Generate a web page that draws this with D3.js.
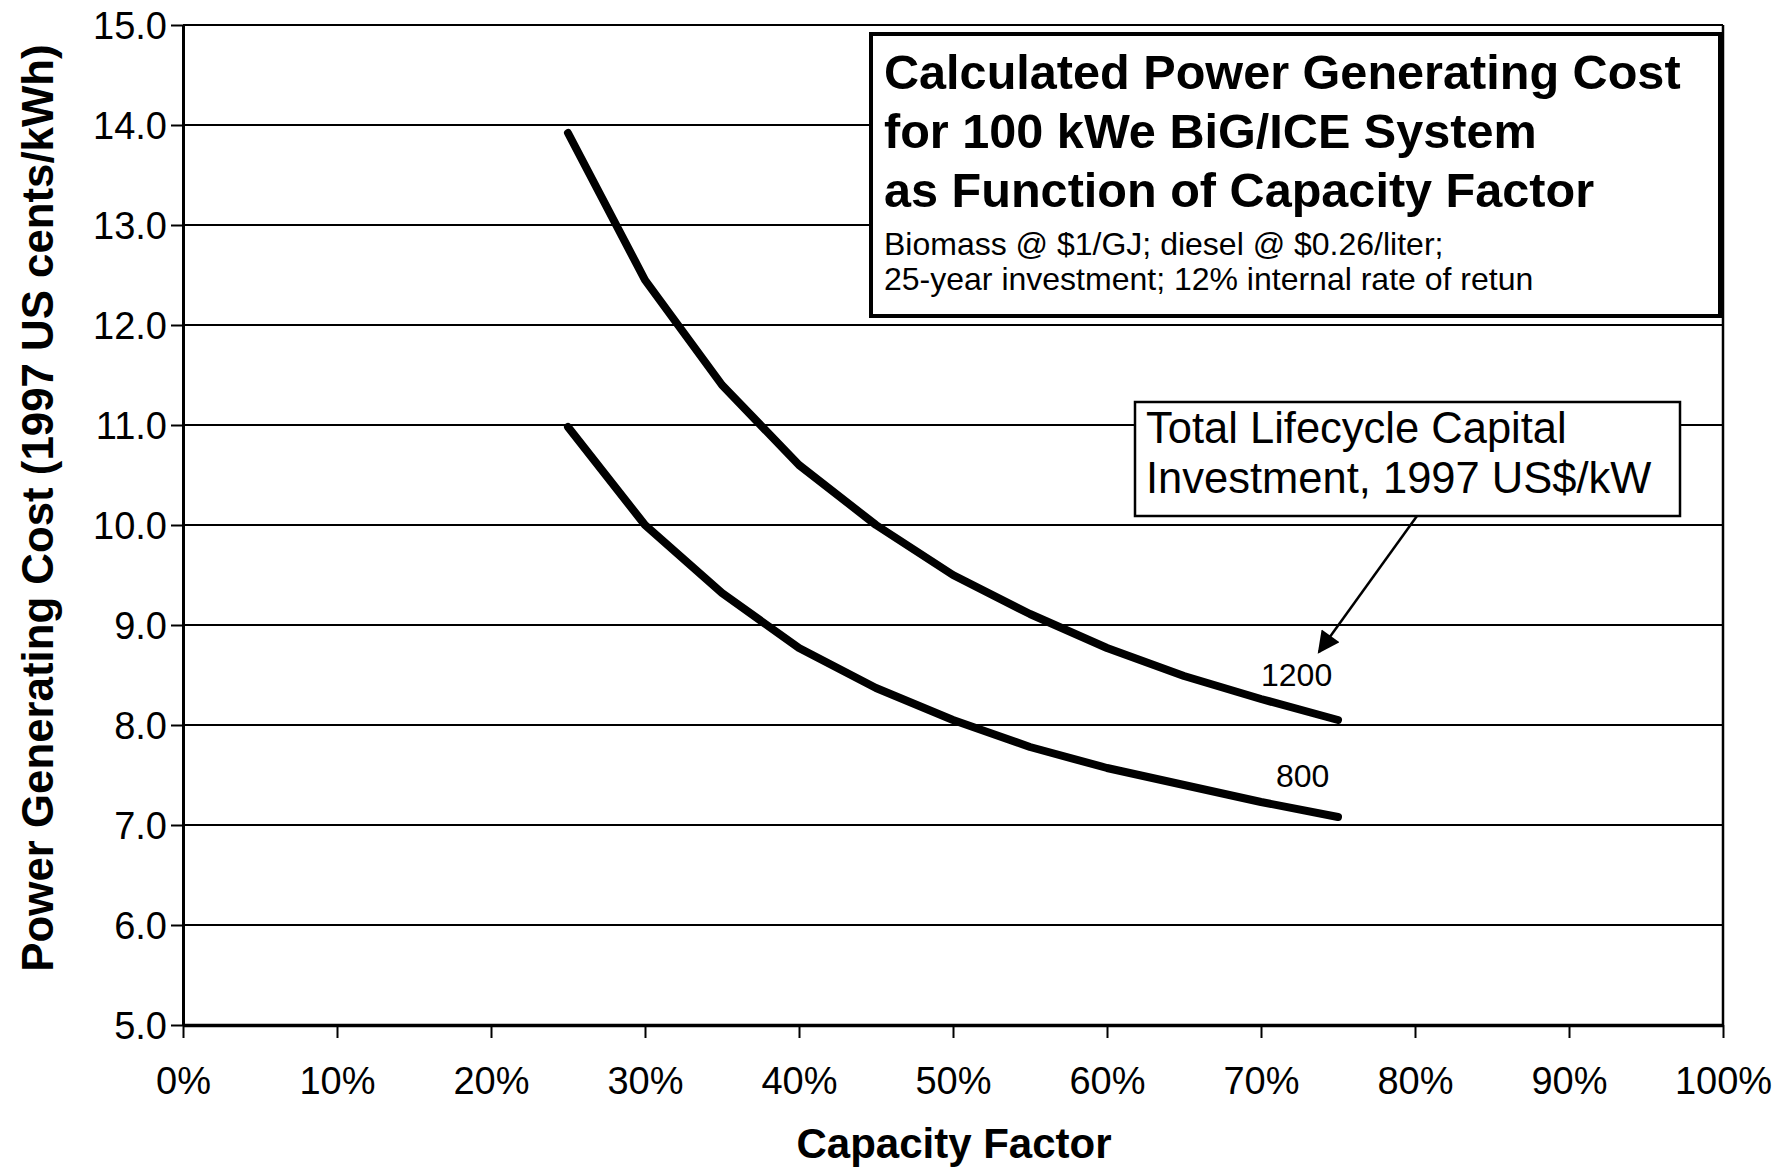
<!DOCTYPE html>
<html>
<head>
<meta charset="utf-8">
<script src="https://cdn.jsdelivr.net/npm/d3@7"></script>
<style>
  body { margin: 0; background: #fff; }
  text { font-family: "Liberation Sans", Arial, sans-serif; fill: #000; }
  .axis path, .axis line { stroke: #000; }
</style>
</head>
<body>
<div id="chart"></div>
<script>
// values
const capacity = [0.25, 0.30, 0.35, 0.40, 0.45, 0.50, 0.55, 0.60, 0.65, 0.70, 0.75];
const cost1200 = [13.92, 12.45, 11.40, 10.60, 10.00, 9.50, 9.11, 8.77, 8.49, 8.26, 8.05];
const cost800  = [10.98, 10.00, 9.32, 8.77, 8.37, 8.05, 7.78, 7.57, 7.40, 7.23, 7.08];
const seriesNames = ["1200", "800"];
const yTicks = [5, 6, 7, 8, 9, 10, 11, 12, 13, 14, 15];
const xTicks = [0, 0.1, 0.2, 0.3, 0.4, 0.5, 0.6, 0.7, 0.8, 0.9, 1.0];
const titleLines = ["Calculated Power Generating Cost", "for 100 kWe BiG/ICE System", "as Function of Capacity Factor"];
const subLines = ["Biomass @ $1/GJ; diesel @ $0.26/liter;", "25-year investment; 12% internal rate of retun"];
const noteLines = ["Total Lifecycle Capital", "Investment, 1997 US$/kW"];

let W = 1789, H = 1172;
let plotLeft = 183, plotRight = 1723, plotTop = 25, plotBottom = 1025;

let svg = d3.select("#chart").append("svg")
    .attr("width", W).attr("height", H);

let x = d3.scaleLinear().domain([0, 1]).range([plotLeft, plotRight]);
let y = d3.scaleLinear().domain([5, 15]).range([plotBottom, plotTop]);

// gridlines
svg.append("g")
  .selectAll("line")
  .data(yTicks)
  .enter().append("line")
    .attr("x1", plotLeft).attr("x2", plotRight)
    .attr("y1", d => y(d)).attr("y2", d => y(d))
    .attr("stroke", "#000").attr("stroke-width", 2);

// right border
svg.append("line")
    .attr("x1", plotRight).attr("x2", plotRight)
    .attr("y1", plotTop).attr("y2", plotBottom)
    .attr("stroke", "#000").attr("stroke-width", 2.5);

// y axis
let yAxis = d3.axisLeft(y).tickValues(yTicks).tickFormat(d3.format(".1f"))
    .tickSize(12).tickSizeOuter(0).tickPadding(4);
let gy = svg.append("g").attr("class", "axis")
    .attr("transform", `translate(${plotLeft},0)`)
    .call(yAxis);
gy.select(".domain").attr("stroke-width", 3);
gy.selectAll(".tick line").attr("stroke-width", 2);
gy.selectAll("text").attr("font-size", 38).attr("dy", "0.36em");

// x axis
let xAxis = d3.axisBottom(x).tickValues(xTicks).tickFormat(d3.format(".0%"))
    .tickSize(13).tickSizeOuter(0).tickPadding(29);
let gx = svg.append("g").attr("class", "axis")
    .attr("transform", `translate(0,${plotBottom})`)
    .call(xAxis);
gx.select(".domain").attr("stroke-width", 3.5);
gx.selectAll(".tick line").attr("stroke-width", 2);
gx.selectAll("text").attr("font-size", 38).attr("dy", "0.71em");

// axis titles
svg.append("text")
    .attr("transform", `translate(53,508)rotate(-90)`)
    .attr("text-anchor", "middle")
    .attr("font-size", 43.8).attr("font-weight", "bold")
    .text("Power Generating Cost (1997 US cents/kWh)");

svg.append("text")
    .attr("x", 954).attr("y", 1158)
    .attr("text-anchor", "middle")
    .attr("font-size", 42).attr("font-weight", "bold")
    .text("Capacity Factor");

// curves
let line = d3.line()
    .x(d => x(d[0]))
    .y(d => y(d[1]));

let series = [cost1200, cost800].map(vals => capacity.map((c, i) => [c, vals[i]]));

svg.append("g")
  .selectAll("path")
  .data(series)
  .enter().append("path")
    .attr("d", line)
    .attr("fill", "none")
    .attr("stroke", "#000")
    .attr("stroke-width", 8)
    .attr("stroke-linecap", "round")
    .attr("stroke-linejoin", "round");

// series labels
let lastIdx = capacity.length - 1;
svg.append("text")
    .attr("x", x(capacity[lastIdx]) - 77).attr("y", y(cost1200[lastIdx]) - 34)
    .attr("font-size", 32)
    .text(seriesNames[0]);
svg.append("text")
    .attr("x", x(capacity[lastIdx]) - 62).attr("y", y(cost800[lastIdx]) - 30)
    .attr("font-size", 32)
    .text(seriesNames[1]);

// title box
let tb = svg.append("g");
tb.append("rect")
    .attr("x", 871).attr("y", 34).attr("width", 849).attr("height", 282)
    .attr("fill", "#fff").attr("stroke", "#000").attr("stroke-width", 4);
tb.selectAll("text.t")
  .data(titleLines)
  .enter().append("text")
    .attr("class", "t")
    .attr("x", 884).attr("y", (d, i) => 89 + i * 59)
    .attr("font-size", 48.6).attr("font-weight", "bold")
    .text(d => d);
tb.selectAll("text.s")
  .data(subLines)
  .enter().append("text")
    .attr("class", "s")
    .attr("x", 884).attr("y", (d, i) => 255 + i * 35)
    .attr("font-size", 32)
    .text(d => d);

// annotation box with arrow
let nb = svg.append("g");
nb.append("rect")
    .attr("x", 1135).attr("y", 402).attr("width", 545).attr("height", 114)
    .attr("fill", "#fff").attr("stroke", "#000").attr("stroke-width", 2.5);
nb.selectAll("text")
  .data(noteLines)
  .enter().append("text")
    .attr("x", 1146).attr("y", (d, i) => 443 + i * 50)
    .attr("font-size", 43.5)
    .text(d => d);

svg.append("defs").append("marker")
    .attr("id", "arrow")
    .attr("viewBox", "0 0 10 10")
    .attr("refX", 9).attr("refY", 5)
    .attr("markerWidth", 28).attr("markerHeight", 22)
    .attr("markerUnits", "userSpaceOnUse")
    .attr("orient", "auto")
  .append("path")
    .attr("d", "M0,0 L10,5 L0,10 z")
    .attr("fill", "#000");

svg.append("line")
    .attr("x1", 1417).attr("y1", 516)
    .attr("x2", 1319).attr("y2", 652)
    .attr("stroke", "#000").attr("stroke-width", 2.5)
    .attr("marker-end", "url(#arrow)");
</script>
</body>
</html>
